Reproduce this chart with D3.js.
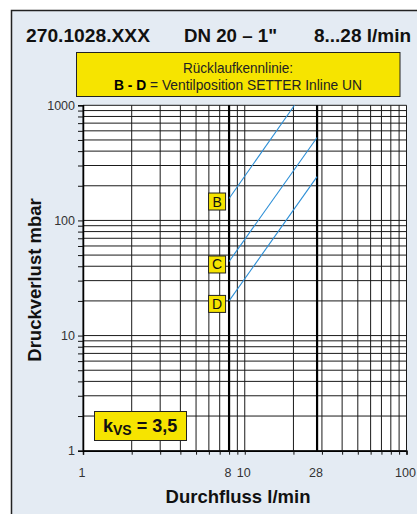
<!DOCTYPE html>
<html>
<head>
<meta charset="utf-8">
<script src="https://cdn.jsdelivr.net/npm/d3@7"></script>
<style>
  html, body { margin: 0; padding: 0; background: #fff; }
  svg { display: block; font-family: "Liberation Sans", Arial, Helvetica, sans-serif; }
</style>
</head>
<body>
<svg id="chart" width="417" height="514"></svg>
<script>
// Header texts
const headerTexts = ["270.1028.XXX", "DN 20 \u2013 1\"", "8...28 l/min"];
const legendLine1 = "R\u00fccklaufkennlinie:";
const legendBold = "B - D";
const legendRest = " = Ventilposition SETTER Inline UN";

// Axis labels and tick labels
const xTitle = "Durchfluss l/min";
const yTitle = "Druckverlust mbar";
const xTickLabels = [1, 8, 10, 28, 100];
const yTickLabels = [1, 10, 100, 1000];

// Flow range limits shown as heavy vertical lines
const markerFlows = [8, 28];

// Return-flow curves per valve position (flow l/min, pressure loss mbar)
const curveNames = ["B", "C", "D"];
const curveFlowStart = [8, 8, 8];
const curveFlowEnd = [20.3, 28, 28];
const curveDpStart = [155, 44, 20];
const curveDpEnd = [1000, 525, 240];

const kvsValue = "3,5";

const svg = d3.select("#chart");
const W = 417, H = 514;

// Panel background with border
svg.append("rect")
  .attr("x", 11.5).attr("y", 10.5)
  .attr("width", W + 20).attr("height", H + 20)
  .attr("fill", "#e4ebf3")
  .attr("stroke", "#222").attr("stroke-width", 1.5);

// Header row
const headerX = [26, 184, 314];
const headerW = [124, 93, 97];
svg.selectAll("text.header").data(headerTexts).join("text")
  .attr("class", "header")
  .attr("x", (d, i) => headerX[i]).attr("y", 42)
  .attr("textLength", (d, i) => headerW[i])
  .attr("lengthAdjust", "spacingAndGlyphs")
  .attr("font-size", 18).attr("font-weight", "bold").attr("fill", "#111")
  .text(d => d);

// Legend box
svg.append("rect")
  .attr("x", 76.5).attr("y", 52.5).attr("width", 323.5).attr("height", 44)
  .attr("fill", "#f6e400").attr("stroke", "#222").attr("stroke-width", 1);
svg.append("text")
  .attr("x", 238).attr("y", 72.7).attr("text-anchor", "middle")
  .attr("font-size", 14.5).attr("fill", "#222")
  .attr("textLength", 110).attr("lengthAdjust", "spacingAndGlyphs")
  .text(legendLine1);
const leg2 = svg.append("text")
  .attr("x", 114).attr("y", 89.5)
  .attr("font-size", 14.5).attr("fill", "#222")
  .attr("textLength", 248).attr("lengthAdjust", "spacingAndGlyphs");
leg2.append("tspan").attr("font-weight", "bold").attr("fill", "#000").text(legendBold);
leg2.append("tspan").text(legendRest);

// Scales
const x = d3.scaleLog().domain([1, 100]).range([83, 406.5]);
const y = d3.scaleLog().domain([1, 1000]).range([450.7, 105.3]);

// Plot area
svg.append("rect")
  .attr("x", x(1)).attr("y", y(1000))
  .attr("width", x(100) - x(1)).attr("height", y(1) - y(1000))
  .attr("fill", "#fff");

const xGrid = x.ticks();
const yGrid = y.ticks();

const grid = svg.append("g").attr("stroke", "#1a1a1a").attr("stroke-width", 1);
grid.selectAll("line.v").data(xGrid).join("line")
  .attr("class", "v")
  .attr("x1", d => x(d)).attr("x2", d => x(d))
  .attr("y1", y(1000)).attr("y2", y(1));
grid.selectAll("line.h").data(yGrid).join("line")
  .attr("class", "h")
  .attr("x1", x(1)).attr("x2", x(100))
  .attr("y1", d => y(d)).attr("y2", d => y(d));

// Heavy flow-range lines
svg.selectAll("line.marker").data(markerFlows).join("line")
  .attr("class", "marker")
  .attr("x1", d => x(d)).attr("x2", d => x(d))
  .attr("y1", y(1000)).attr("y2", y(1))
  .attr("stroke", "#000").attr("stroke-width", 2.2);

// Axes (tick marks only; labels drawn separately)
const xAxis = svg.append("g")
  .attr("transform", `translate(0,${y(1)})`)
  .call(d3.axisBottom(x).tickValues(xGrid).tickSize(4).tickFormat(""));
const yAxis = svg.append("g")
  .attr("transform", `translate(${x(1)},0)`)
  .call(d3.axisLeft(y).tickValues(yGrid).tickSize(5).tickFormat(""));
[xAxis, yAxis].forEach(a => {
  a.select(".domain").attr("stroke", "#000").attr("stroke-width", 1.5);
  a.selectAll(".tick line").attr("stroke", "#111");
});

// Tick labels
svg.selectAll("text.xtl").data(xTickLabels).join("text")
  .attr("class", "xtl")
  .attr("x", d => x(d) - 1).attr("y", 476.5)
  .attr("text-anchor", "middle").attr("font-size", 12.5).attr("fill", "#333")
  .text(d => d);
svg.selectAll("text.ytl").data(yTickLabels).join("text")
  .attr("class", "ytl")
  .attr("x", 75).attr("y", d => y(d) + 4.5)
  .attr("text-anchor", "end").attr("font-size", 12.5).attr("fill", "#333")
  .text(d => d);

// Axis titles
svg.append("text")
  .attr("x", 238).attr("y", 502.5).attr("text-anchor", "middle")
  .attr("font-size", 18.5).attr("font-weight", "bold").attr("fill", "#111")
  .text(xTitle);
svg.append("text")
  .attr("transform", `translate(40.5,280) rotate(-90)`)
  .attr("text-anchor", "middle")
  .attr("font-size", 18.5).attr("font-weight", "bold").attr("fill", "#111")
  .text(yTitle);

// Curves
const curves = curveNames.map((n, i) => ({
  name: n,
  pts: [[curveFlowStart[i], curveDpStart[i]], [curveFlowEnd[i], curveDpEnd[i]]]
}));
const line = d3.line().x(d => x(d[0])).y(d => y(d[1]));
svg.selectAll("path.curve").data(curves).join("path")
  .attr("class", "curve")
  .attr("d", d => line(d.pts))
  .attr("fill", "none").attr("stroke", "#2b8ed6").attr("stroke-width", 1.1);

// Curve labels
const lab = svg.selectAll("g.lab").data(curves).join("g")
  .attr("class", "lab")
  .attr("transform", d => `translate(${x(d.pts[0][0]) - 21},${y(d.pts[0][1]) - 6})`);
lab.append("rect")
  .attr("x", 0.5).attr("y", 0.5).attr("width", 17).attr("height", 17)
  .attr("fill", "#f6e400").attr("stroke", "#222").attr("stroke-width", 1);
lab.append("text")
  .attr("x", 9).attr("y", 14).attr("text-anchor", "middle")
  .attr("font-size", 14).attr("fill", "#111")
  .text(d => d.name);

// kvs box
svg.append("rect")
  .attr("x", 94.5).attr("y", 411.5).attr("width", 92).attr("height", 29)
  .attr("fill", "#f6e400").attr("stroke", "#222").attr("stroke-width", 1);
const kt = svg.append("text")
  .attr("x", 103).attr("y", 432.3)
  .attr("font-size", 18).attr("font-weight", "bold").attr("fill", "#111");
kt.append("tspan").text("k");
kt.append("tspan").attr("font-size", 14).attr("dy", 3).text("VS");
kt.append("tspan").attr("dy", -3).text(" = " + kvsValue);
</script>
</body>
</html>
